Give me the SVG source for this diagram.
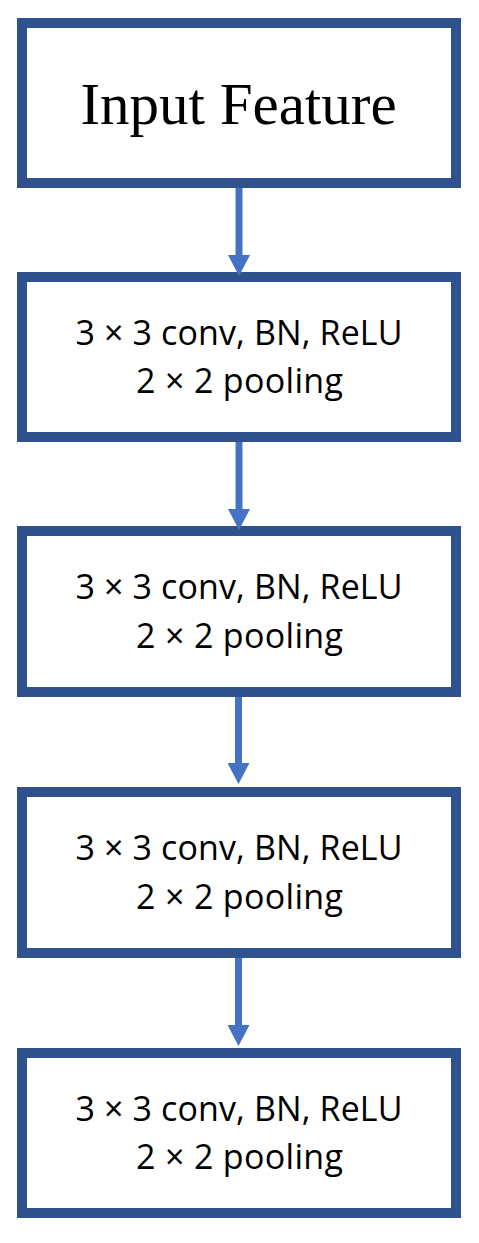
<svg xmlns="http://www.w3.org/2000/svg" width="479" height="1243" viewBox="0 0 479 1243">
<style>
.box{fill:#FFFFFF;stroke:#2F528F;stroke-width:10}
.lbl{font-family:"Open Sans","Noto Sans",sans-serif;font-size:34px;fill:#000;text-anchor:middle}
.title{font-family:"Liberation Serif","Times New Roman",serif;font-size:59px;fill:#000;text-anchor:middle}
.arr{stroke:#4472C4;stroke-width:7;fill:none;marker-end:url(#ah)}
</style>
<defs>
<marker id="ah" viewBox="0 0 21 22" markerWidth="21" markerHeight="22" markerUnits="userSpaceOnUse" refX="0" refY="11" orient="auto">
<path d="M0,0 L21,11 L0,22 Z" fill="#4472C4"/>
</marker>
</defs>
<rect width="479" height="1243" fill="#FFFFFF"/>
<g id="node-input">
<rect class="box" x="22" y="23" width="434" height="160"/>
<text class="title" x="238.5" y="124">Input Feature</text>
</g>
<g id="node-block1">
<rect class="box" x="22" y="277" width="434" height="160"/>
<text class="lbl" x="239" y="345" textLength="327">3 × 3 conv, BN, ReLU</text>
<text class="lbl" x="239.5" y="393" textLength="207">2 × 2 pooling</text>
</g>
<g id="node-block2">
<rect class="box" x="22" y="531" width="434" height="161"/>
<text class="lbl" x="239" y="599" textLength="327">3 × 3 conv, BN, ReLU</text>
<text class="lbl" x="239.5" y="648" textLength="207">2 × 2 pooling</text>
</g>
<g id="node-block3">
<rect class="box" x="22" y="792" width="434" height="161"/>
<text class="lbl" x="239" y="860" textLength="327">3 × 3 conv, BN, ReLU</text>
<text class="lbl" x="239.5" y="909" textLength="207">2 × 2 pooling</text>
</g>
<g id="node-block4">
<rect class="box" x="22" y="1053" width="434" height="160"/>
<text class="lbl" x="239" y="1121" textLength="327">3 × 3 conv, BN, ReLU</text>
<text class="lbl" x="239.5" y="1169" textLength="207">2 × 2 pooling</text>
</g>
<g id="connectors">
<line class="arr" x1="239" y1="188" x2="239" y2="255"/>
<line class="arr" x1="239" y1="442" x2="239" y2="509"/>
<line class="arr" x1="238.5" y1="697" x2="238.5" y2="763"/>
<line class="arr" x1="238.5" y1="958" x2="238.5" y2="1025"/>
</g>
</svg>
